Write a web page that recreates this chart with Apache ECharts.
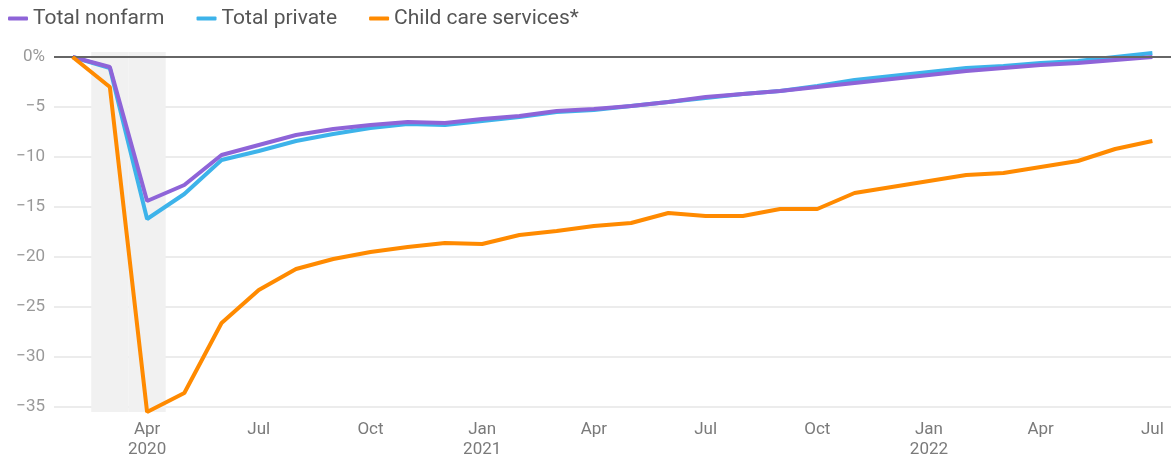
<!DOCTYPE html>
<html>
<head>
<meta charset="utf-8">
<script src="https://cdn.jsdelivr.net/npm/echarts@6/dist/echarts.min.js"></script>
<style>
  html, body { margin: 0; padding: 0; background: #fff; }
  #chart { width: 1173px; height: 462px; }
</style>
</head>
<body>
<div id="chart"></div>
<script>
// Employment change since February 2020, percent
const months = [
  '2020-02','2020-03','2020-04','2020-05','2020-06','2020-07','2020-08','2020-09','2020-10','2020-11','2020-12',
  '2021-01','2021-02','2021-03','2021-04','2021-05','2021-06','2021-07','2021-08','2021-09','2021-10','2021-11','2021-12',
  '2022-01','2022-02','2022-03','2022-04','2022-05','2022-06','2022-07'
];
const totalNonfarm = [
  0, -1.0, -14.4, -12.8, -9.8, -8.8, -7.8, -7.2, -6.8, -6.5, -6.6,
  -6.2, -5.9, -5.4, -5.2, -4.9, -4.5, -4.0, -3.7, -3.4, -3.0, -2.6, -2.2,
  -1.8, -1.4, -1.1, -0.8, -0.6, -0.3, 0.0
];
const totalPrivate = [
  0, -1.1, -16.2, -13.7, -10.3, -9.4, -8.4, -7.7, -7.1, -6.7, -6.8,
  -6.4, -6.0, -5.5, -5.3, -4.9, -4.5, -4.1, -3.7, -3.4, -2.9, -2.3, -1.9,
  -1.5, -1.1, -0.9, -0.6, -0.4, 0.0, 0.4
];
const childCare = [
  0, -3.0, -35.5, -33.6, -26.6, -23.3, -21.2, -20.2, -19.5, -19.0, -18.6,
  -18.7, -17.8, -17.4, -16.9, -16.6, -15.6, -15.9, -15.9, -15.2, -15.2, -13.6, -13.0,
  -12.4, -11.8, -11.6, -11.0, -10.4, -9.2, -8.4
];
// Recession shading (March–April 2020): upper and lower extent
const recessionMonths = ['2020-03', '2020-04'];
const recessionTop = 0.5;
const recessionBottom = -35.5;

const monthNames = ['Jan','Feb','Mar','Apr','May','Jun','Jul','Aug','Sep','Oct','Nov','Dec'];
const shadeUp = months.map(m => recessionMonths.includes(m) ? recessionTop : null);
const shadeDown = months.map(m => recessionMonths.includes(m) ? recessionBottom : null);

const chart = echarts.init(document.getElementById('chart'), null, { renderer: 'canvas' });
const font = 'Roboto, "Noto Sans", sans-serif';

chart.setOption({
  animation: false,
  backgroundColor: '#fff',
  textStyle: { fontFamily: font },
  legend: {
    left: 3, top: 3,
    icon: 'roundRect',
    itemWidth: 20, itemHeight: 4,
    itemGap: 32,
    data: ['Total nonfarm', 'Total private', 'Child care services*'],
    textStyle: { fontSize: 21, color: '#555', fontFamily: font }
  },
  grid: { left: 54, right: 2, top: 57, bottom: 55, containLabel: false },
  xAxis: {
    type: 'category',
    data: months,
    boundaryGap: true,
    axisLine: { show: false },
    axisTick: { show: false },
    splitLine: { show: false },
    axisLabel: {
      interval: (i, v) => [1, 4, 7, 10].includes(+v.slice(5)),
      formatter: (v, i) => {
        const y = v.slice(0, 4), m = +v.slice(5);
        const name = monthNames[m - 1];
        return (m === 1 || i === 2) ? name + '\n' + y : name;
      },
      color: '#7a7a7a', fontSize: 17, lineHeight: 20, margin: 13, fontFamily: font
    }
  },
  yAxis: {
    type: 'value',
    min: -35, max: 0, interval: 5,
    axisLine: { show: false },
    axisTick: { show: false },
    axisLabel: {
      formatter: v => v === 0 ? '0%' : String(v).replace('-', '\u2212'),
      color: '#999', fontSize: 17, margin: 9, fontFamily: font
    },
    splitLine: { lineStyle: { color: '#e6e6e6', width: 1.5 } }
  },
  series: [
    {
      type: 'bar', stack: 'shade', data: shadeUp, barCategoryGap: '0%',
      itemStyle: { color: '#f1f1f1' }, silent: true, clip: false, z: 1
    },
    {
      type: 'bar', stack: 'shade', data: shadeDown, barCategoryGap: '0%',
      itemStyle: { color: '#f1f1f1' }, silent: true, clip: false, z: 1,
      markLine: {
        silent: true, symbol: 'none', label: { show: false },
        lineStyle: { color: '#666', width: 2, type: 'solid' },
        data: [{ yAxis: 0 }]
      }
    },
    {
      name: 'Total nonfarm', type: 'line', data: totalNonfarm, symbol: 'none', clip: false, z: 4,
      itemStyle: { color: '#8e64d8' }, lineStyle: { width: 4, color: '#8e64d8' }
    },
    {
      name: 'Total private', type: 'line', data: totalPrivate, symbol: 'none', clip: false, z: 3,
      itemStyle: { color: '#3db3ea' }, lineStyle: { width: 4, color: '#3db3ea' }
    },
    {
      name: 'Child care services*', type: 'line', data: childCare, symbol: 'none', clip: false, z: 5,
      itemStyle: { color: '#ff8a00' }, lineStyle: { width: 4, color: '#ff8a00' }
    }
  ]
});
</script>
</body>
</html>
